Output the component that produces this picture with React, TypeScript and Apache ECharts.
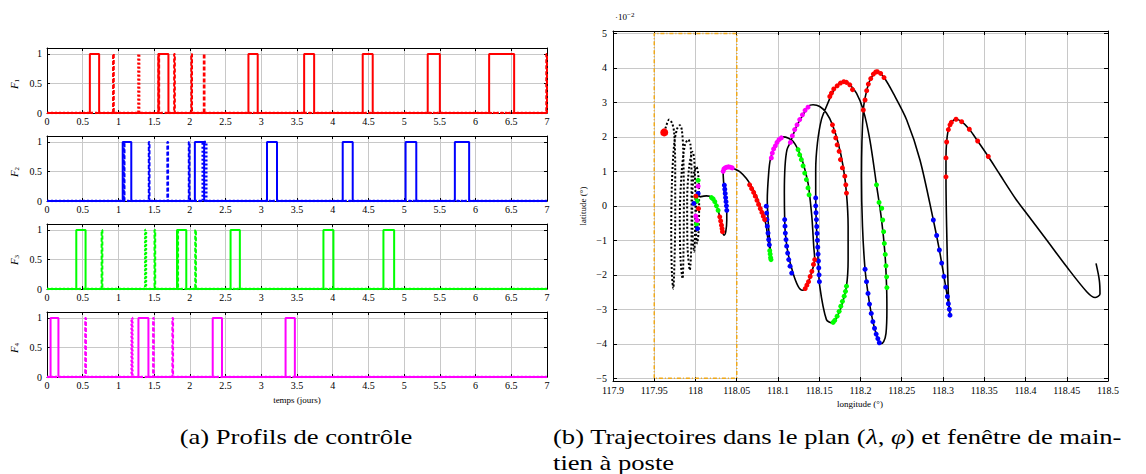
import React, { useEffect, useRef } from "react";
import * as echarts from "echarts";

// ---------- Data: control profiles (pulse start/end times, days) ----------
const T_MAX = 7;
const TIME_TICKS_INTERVAL = 0.5;
const F1_SOLID = [[0.6, 0.73], [1.56, 1.7], [2.82, 2.95], [3.6, 3.74], [4.42, 4.56], [5.33, 5.5], [6.19, 6.54]];
const F1_DASHED = [[0.925, 0.935], [1.56, 1.57], [1.78, 1.79], [2.02, 2.03], [2.195, 2.205], [6.99, 7.0]];
const F1_DOTTED = [[1.28, 1.29]];
const F2_SOLID = [[1.06, 1.18], [2.07, 2.2], [3.08, 3.22], [4.14, 4.28], [5.02, 5.17], [5.71, 5.91]];
const F2_DASHED = [[1.075, 1.085], [1.425, 1.435], [1.685, 1.695], [1.985, 1.995]];
const F2_DOTTED = [[2.18, 2.23]];
const F3_SOLID = [[0.41, 0.54], [1.82, 1.95], [2.57, 2.7], [3.87, 4.01], [4.71, 4.86]];
const F3_DASHED = [[0.765, 0.775], [1.505, 1.515], [1.825, 1.835], [2.075, 2.085]];
const F3_DOTTED = [[1.375, 1.385]];
const F4_SOLID = [[0.05, 0.16], [1.28, 1.42], [2.32, 2.45], [3.34, 3.47]];
const F4_DASHED = [[0.535, 0.545], [1.485, 1.495], [1.755, 1.765]];
const F4_DOTTED = [[1.185, 1.195]];

const PANEL_NAMES = ["1", "2", "3", "4"];
const PANEL_COLORS = ["#ff0000", "#0000ff", "#00ff00", "#ff00ff"];
const PANELS = [
  [F1_SOLID, F1_DASHED, F1_DOTTED],
  [F2_SOLID, F2_DASHED, F2_DOTTED],
  [F3_SOLID, F3_DASHED, F3_DOTTED],
  [F4_SOLID, F4_DASHED, F4_DOTTED],
];

// ---------- Data: trajectories (longitude °, latitude ×1e-2 °) ----------
const LON_MIN = 117.9;
const LON_MAX = 118.5;
const LON_STEP = 0.05;
const LAT_MIN = -5.08;
const LAT_MAX = 5.07;
const BOX_LON = [117.95, 118.05];
const BOX_LAT = [-5, 5];

const DOTTED_PATH = [
  [117.9621, 2.13], [117.9641, 2.29], [117.9681, 2.5], [117.9718, 2.39], [117.9742, 2.1], [117.9754, 1.13],
  [117.9754, -0.32], [117.9746, -1.57], [117.973, -2.4], [117.9714, -1.96], [117.9706, -0.8], [117.9714, 0.65],
  [117.9742, 1.81], [117.9778, 2.24], [117.981, 2.34], [117.9835, 2.19], [117.9851, 1.61], [117.9859, 0.16],
  [117.9855, -1.29], [117.9843, -2.11], [117.9819, -1.57], [117.981, -0.32], [117.9831, 0.94], [117.9871, 1.76],
  [117.9911, 1.92], [117.994, 1.76], [117.9952, 0.65], [117.9952, -0.8], [117.9931, -1.86], [117.9903, -1.19],
  [117.9899, 0.16], [117.9923, 1.13], [117.9964, 1.57], [117.9984, 1.37], [118.0, 0.16], [117.9992, -1.0],
  [117.9984, -1.33], [117.9964, -0.8], [117.996, 0.16], [117.998, 0.94], [118.0012, 1.13], [118.0036, 0.84],
  [118.0044, -0.03], [118.0036, -0.8], [118.002, -1.09], [118.0004, -0.61], [118.0012, 0.16], [118.0032, 0.31],
];

const SOLID_PATH = [
  [118.0052, 0.26], [118.0133, 0.29], [118.0173, 0.28], [118.0194, 0.24], [118.0234, 0.12], [118.0274, -0.13],
  [118.0294, -0.32], [118.0315, -0.56], [118.0327, -0.75], [118.0347, -0.85], [118.0367, -0.75], [118.0379, -0.42],
  [118.0379, -0.13], [118.0355, 0.26], [118.0343, 0.6], [118.0335, 0.99], [118.0355, 1.1], [118.0407, 1.13],
  [118.0464, 1.08], [118.0536, 0.99], [118.0617, 0.79], [118.0677, 0.57], [118.0737, 0.28], [118.0798, -0.11],
  [118.0838, -0.4], [118.0858, -0.59], [118.0879, -0.98], [118.0899, -1.22], [118.0919, -1.56], [118.0905, -1.2],
  [118.0885, -0.6], [118.087, 0.18], [118.0887, 0.95], [118.0907, 1.34], [118.096, 1.72], [118.102, 1.94],
  [118.1061, 2.0], [118.1121, 1.97], [118.1182, 1.87], [118.1243, 1.63], [118.1304, 1.24], [118.1364, 0.66],
  [118.1385, 0.28], [118.1413, -0.4], [118.1433, -1.17], [118.1445, -1.56], [118.1405, -1.95], [118.1364, -2.24],
  [118.1324, -2.41], [118.1296, -2.45], [118.1243, -2.33], [118.1182, -1.95], [118.1121, -1.37], [118.1089, -0.79],
  [118.1081, -0.4], [118.1077, 0.37], [118.1085, 1.14], [118.1109, 1.63], [118.115, 1.84], [118.1223, 2.3],
  [118.1304, 2.64], [118.1364, 2.88], [118.1425, 2.93], [118.1506, 2.88], [118.1587, 2.69], [118.166, 2.35],
  [118.1729, 1.82], [118.179, 1.14], [118.183, 0.37], [118.185, -0.59], [118.185, -1.56], [118.183, -2.33],
  [118.1769, -2.91], [118.1709, -3.25], [118.166, -3.4], [118.1587, -3.3], [118.1506, -2.33], [118.1486, -1.56],
  [118.1466, -0.59], [118.1457, 0.23], [118.1457, 1.05], [118.1478, 1.82], [118.1526, 2.5], [118.1587, 2.88],
  [118.1648, 3.22], [118.1709, 3.46], [118.179, 3.61], [118.187, 3.51], [118.1951, 3.27], [118.2032, 2.79],
  [118.2113, 1.92], [118.2194, 0.61], [118.2255, -0.4], [118.2296, -1.37], [118.2316, -2.33], [118.232, -3.02],
  [118.2309, -3.7], [118.2281, -3.94], [118.2245, -4.0], [118.221, -3.85], [118.217, -3.55], [118.213, -3.12],
  [118.2091, -2.54], [118.2055, -1.84], [118.2024, -0.59], [118.2012, 0.86], [118.2034, 2.78], [118.2075, 3.34],
  [118.2124, 3.69], [118.2204, 3.89], [118.2285, 3.72], [118.2398, 3.26], [118.256, 2.49], [118.2721, 1.33],
  [118.2883, -0.41], [118.2956, -1.28], [118.3012, -2.05], [118.3053, -2.63], [118.3077, -3.0], [118.3085, -3.17],
  [118.3065, -2.54], [118.3044, -0.61], [118.3036, 0.84], [118.3036, 1.39], [118.3044, 1.85], [118.3065, 2.21],
  [118.3101, 2.42], [118.3158, 2.51], [118.3226, 2.44], [118.3319, 2.22], [118.342, 1.88], [118.3549, 1.43],
  [118.3691, 0.9], [118.389, 0.17], [118.4014, -0.22], [118.4257, -0.99], [118.45, -1.77], [118.4742, -2.49],
  [118.4843, -2.66], [118.4903, -2.56], [118.4895, -2.16], [118.4855, -1.67],
];

const START_POINT = [[117.9621, 2.13]];

const RED_DOTS = [
  [118.0294, -0.32], [118.0305, -0.44], [118.0315, -0.56], [118.0322, -0.66], [118.0327, -0.75],
  [118.0656, 0.61], [118.068, 0.5], [118.0705, 0.39], [118.0725, 0.28], [118.0745, 0.16], [118.0765, 0.04],
  [118.0785, -0.08], [118.0805, -0.19], [118.0822, -0.3], [118.0838, -0.4],
  [118.1445, -1.56], [118.143, -1.7], [118.141, -1.9], [118.139, -2.05], [118.137, -2.2], [118.135, -2.3], [118.133, -2.4],
  [118.166, 2.35], [118.1676, 2.16], [118.17, 1.97], [118.1717, 1.77], [118.1741, 1.58], [118.1757, 1.34],
  [118.1781, 1.1], [118.181, 0.86], [118.1822, 0.61], [118.183, 0.37],
  [118.1628, 3.17], [118.1648, 3.27], [118.1676, 3.39], [118.1717, 3.48], [118.1757, 3.56], [118.1798, 3.6],
  [118.183, 3.58], [118.187, 3.51], [118.1903, 3.37],
  [118.2034, 2.78], [118.2055, 3.07], [118.2075, 3.34], [118.2095, 3.53], [118.2124, 3.69], [118.2156, 3.82],
  [118.2185, 3.88], [118.2204, 3.89], [118.2244, 3.84], [118.2285, 3.72],
  [118.3036, 0.84], [118.3036, 1.39], [118.3044, 1.85], [118.3065, 2.21], [118.3085, 2.35], [118.3101, 2.42],
  [118.3158, 2.51], [118.3226, 2.44], [118.3319, 2.22], [118.342, 1.88], [118.3549, 1.43],
  [118.0004, 0.28], [118.0036, -0.08],
];

const BLUE_DOTS = [
  [118.0379, -0.13], [118.0375, 0.0], [118.037, 0.12], [118.0365, 0.24], [118.036, 0.36], [118.0355, 0.48], [118.035, 0.6],
  [118.0858, -0.01], [118.0862, -0.21], [118.0866, -0.4], [118.087, -0.59], [118.0879, -0.79], [118.0887, -0.98], [118.0895, -1.13],
  [118.1081, -0.4], [118.1085, -0.59], [118.1089, -0.79], [118.1097, -0.98], [118.1105, -1.17], [118.1117, -1.37],
  [118.113, -1.56], [118.1146, -1.75], [118.1166, -1.95],
  [118.1457, 0.23], [118.1457, 0.0], [118.1461, -0.2], [118.1466, -0.4], [118.147, -0.6], [118.1474, -0.8],
  [118.1478, -1.0], [118.1482, -1.2], [118.1486, -1.4], [118.149, -1.6], [118.1494, -1.8], [118.1498, -2.0], [118.1502, -2.2],
  [118.2055, -1.84], [118.2073, -2.2], [118.2091, -2.54], [118.2109, -2.85], [118.213, -3.12], [118.215, -3.36],
  [118.217, -3.55], [118.219, -3.72], [118.221, -3.85], [118.2228, -3.97],
  [118.2883, -0.41], [118.2923, -0.86], [118.2956, -1.28], [118.2984, -1.66], [118.3012, -2.05], [118.3033, -2.36],
  [118.3053, -2.63], [118.3065, -2.84], [118.3077, -3.0], [118.3085, -3.17],
  [118.0032, 0.36], [117.998, 0.07], [118.0024, -0.66],
];

const GREEN_DOTS = [
  [118.0194, 0.24], [118.0214, 0.2], [118.0234, 0.12], [118.0254, 0.0], [118.0274, -0.13],
  [118.09, -1.3], [118.0905, -1.4], [118.091, -1.5], [118.0915, -1.56],
  [118.1243, 1.63], [118.1263, 1.48], [118.1283, 1.34], [118.1304, 1.16], [118.1324, 0.95], [118.1344, 0.76],
  [118.1364, 0.52], [118.1377, 0.32],
  [118.183, -2.33], [118.1818, -2.48], [118.1802, -2.62], [118.1781, -2.77], [118.1761, -2.91], [118.1741, -3.06],
  [118.1717, -3.2], [118.1688, -3.32], [118.1668, -3.38],
  [118.2194, 0.61], [118.2225, 0.1], [118.2257, -0.07], [118.2269, -0.41], [118.228, -0.75], [118.2289, -1.09],
  [118.23, -1.41], [118.2309, -1.74], [118.2317, -2.06], [118.232, -2.37],
  [118.0032, 0.74], [118.0004, 0.26], [118.002, 0.14], [118.0012, -0.53],
];

const MAGENTA_DOTS = [
  [118.0335, 1.0], [118.0345, 1.07], [118.036, 1.1], [118.038, 1.12], [118.04, 1.13], [118.042, 1.12], [118.0445, 1.1],
  [118.0919, 1.39], [118.0931, 1.53], [118.0947, 1.65], [118.0968, 1.74], [118.0988, 1.84], [118.1012, 1.92], [118.104, 1.97],
  [118.115, 1.84], [118.1174, 2.03], [118.1202, 2.21], [118.1231, 2.35], [118.1263, 2.5], [118.1296, 2.64],
  [118.1328, 2.77], [118.1364, 2.86],
  [118.0032, 0.57], [118.0004, -0.3], [118.002, -0.42],
];

// ---------- helpers ----------
function pulseLine(pulses: number[][]) {
  const pts: number[][] = [[0, 0]];
  for (const [s, e] of pulses) {
    pts.push([s, 0], [s, 1], [e, 1], [e, 0]);
  }
  pts.push([T_MAX, 0]);
  return pts;
}

const FONT = "Liberation Serif";
const GRID_COLOR = "#c8c8c8";

export default function App() {
  const ref = useRef<HTMLDivElement>(null);

  useEffect(() => {
    document.body.style.margin = "0";
    if (!ref.current) return;
    const chart = echarts.init(ref.current, undefined, { renderer: "svg" });

    const PANEL_TOPS = [48, 136, 224, 312];
    const grids: any[] = PANEL_TOPS.map((top) => ({ left: 47, top, width: 500, height: 65, show: false }));
    grids.push({ left: 613, top: 31, width: 495, height: 350, show: false });

    const xAxes: any[] = [];
    const yAxes: any[] = [];
    const series: any[] = [];

    const tickStyle = { inside: true, length: 3, lineStyle: { color: "#000", width: 1 } };
    const lineBlack = { show: true, onZero: false, lineStyle: { color: "#000", width: 1 } };

    PANELS.forEach((panel, i) => {
      xAxes.push({
        gridIndex: i, type: "value", min: 0, max: T_MAX, interval: TIME_TICKS_INTERVAL,
        axisLine: lineBlack, axisTick: tickStyle,
        axisLabel: { fontFamily: FONT, fontSize: 10, color: "#000", margin: 3 },
        splitLine: { show: true, lineStyle: { color: GRID_COLOR, width: 1 } },
      });
      xAxes.push({
        gridIndex: i, type: "value", position: "top", min: 0, max: T_MAX, interval: TIME_TICKS_INTERVAL,
        axisLine: lineBlack, axisTick: tickStyle, axisLabel: { show: false }, splitLine: { show: false },
      });
      yAxes.push({
        gridIndex: i, type: "value", min: 0, max: 1.1, interval: 0.5,
        axisLine: lineBlack, axisTick: tickStyle,
        axisLabel: {
          fontFamily: FONT, fontSize: 10, color: "#000", margin: 5,
          formatter: (v: number) => (Math.abs(v * 2 - Math.round(v * 2)) < 1e-6 ? String(v) : ""),
        },
        splitLine: { show: true, lineStyle: { color: GRID_COLOR, width: 1 } },
      });
      yAxes.push({
        gridIndex: i, type: "value", position: "right", min: 0, max: 1.1, interval: 0.5,
        axisLine: lineBlack, axisTick: tickStyle, axisLabel: { show: false }, splitLine: { show: false },
      });
      const color = PANEL_COLORS[i];
      const [solid, dashed, dotted] = panel;
      series.push({
        type: "line", xAxisIndex: 2 * i, yAxisIndex: 2 * i, data: pulseLine(dotted), showSymbol: false,
        lineStyle: { color, width: 2.5, type: [2, 2] }, z: 3,
      });
      series.push({
        type: "line", xAxisIndex: 2 * i, yAxisIndex: 2 * i, data: pulseLine(dashed), showSymbol: false,
        lineStyle: { color, width: 2, type: [4, 2] }, z: 4,
      });
      series.push({
        type: "line", xAxisIndex: 2 * i, yAxisIndex: 2 * i, data: pulseLine(solid), showSymbol: false,
        lineStyle: { color, width: 2 }, z: 5,
      });
    });

    // right plot axes
    xAxes.push({
      gridIndex: 4, type: "value", min: LON_MIN, max: LON_MAX, interval: LON_STEP,
      axisLine: lineBlack, axisTick: { ...tickStyle, length: 4 },
      axisLabel: { fontFamily: FONT, fontSize: 10, color: "#000", margin: 4 },
      splitLine: { show: true, lineStyle: { color: GRID_COLOR, width: 1 } },
    });
    xAxes.push({
      gridIndex: 4, type: "value", position: "top", min: LON_MIN, max: LON_MAX, interval: LON_STEP,
      axisLine: lineBlack, axisTick: { ...tickStyle, length: 4 }, axisLabel: { show: false }, splitLine: { show: false },
    });
    const latFmt = (v: number) => {
      if (Math.abs(v - Math.round(v)) > 1e-6) return "";
      const r = Math.round(v);
      return r < 0 ? "\u2212" + Math.abs(r) : String(r);
    };
    yAxes.push({
      gridIndex: 4, type: "value", min: LAT_MIN, max: LAT_MAX, splitNumber: 10,
      axisLine: lineBlack, axisTick: { ...tickStyle, length: 4 },
      axisLabel: { fontFamily: FONT, fontSize: 10, color: "#000", margin: 6, formatter: latFmt, showMinLabel: true, showMaxLabel: true },
      splitLine: { show: true, lineStyle: { color: GRID_COLOR, width: 1 } },
    });
    yAxes.push({
      gridIndex: 4, type: "value", position: "right", min: LAT_MIN, max: LAT_MAX, splitNumber: 10,
      axisLine: lineBlack, axisTick: { ...tickStyle, length: 4 }, axisLabel: { show: false }, splitLine: { show: false },
    });

    const boxData = [
      [BOX_LON[0], BOX_LAT[0]], [BOX_LON[0], BOX_LAT[1]], [BOX_LON[1], BOX_LAT[1]],
      [BOX_LON[1], BOX_LAT[0]], [BOX_LON[0], BOX_LAT[0]],
    ];
    series.push({
      type: "line", xAxisIndex: 8, yAxisIndex: 8, data: boxData, showSymbol: false,
      lineStyle: { color: "#f0a818", width: 1.5, type: [4, 2, 1, 2] }, z: 2,
    });
    series.push({
      type: "line", xAxisIndex: 8, yAxisIndex: 8, data: DOTTED_PATH, showSymbol: false, smooth: 0.3,
      lineStyle: { color: "#000", width: 2, type: [2, 2] }, z: 3,
    });
    series.push({
      type: "line", xAxisIndex: 8, yAxisIndex: 8, data: SOLID_PATH, showSymbol: false, smooth: 0.3,
      lineStyle: { color: "#000", width: 1.6 }, z: 4,
    });
    const dots = (data: number[][], color: string, size: number) => ({
      type: "scatter", xAxisIndex: 8, yAxisIndex: 8, data, symbol: "circle", symbolSize: size,
      itemStyle: { color, opacity: 1 }, z: 6,
    });
    series.push(dots(GREEN_DOTS, "#00ff00", 5));
    series.push(dots(BLUE_DOTS, "#0000ff", 5));
    series.push(dots(RED_DOTS, "#ff0000", 5));
    series.push(dots(MAGENTA_DOTS, "#ff00ff", 5));
    series.push(dots(START_POINT, "#ff0000", 8));

    const small = { fontFamily: FONT, fontSize: 10, fill: "#000" };
    const graphic: any[] = [];
    PANEL_NAMES.forEach((n, i) => {
      graphic.push({
        type: "text", x: 14, y: PANEL_TOPS[i] + 36, rotation: Math.PI / 2,
        style: {
          text: "{i|F}{s|" + n + "}", align: "center", verticalAlign: "middle",
          rich: {
            i: { fontFamily: FONT, fontSize: 11, fontStyle: "italic", fill: "#000" },
            s: { fontFamily: FONT, fontSize: 7, fill: "#000", padding: [5, 0, 0, 0] },
          },
        },
      });
    });
    graphic.push({ type: "text", x: 297, y: 400, style: { ...small, fontSize: 9, text: "temps (jours)", align: "center", verticalAlign: "middle" } });
    graphic.push({ type: "text", x: 860, y: 404, style: { ...small, fontSize: 9, text: "longitude (°)", align: "center", verticalAlign: "middle" } });
    graphic.push({
      type: "text", x: 583, y: 206, rotation: Math.PI / 2,
      style: { ...small, fontSize: 9, text: "latitude (°)", align: "center", verticalAlign: "middle" },
    });
    graphic.push({
      type: "text", x: 615, y: 17,
      style: {
        text: "{a|·10}{b|\u22122}", align: "left", verticalAlign: "middle",
        rich: {
          a: { fontFamily: FONT, fontSize: 9, fill: "#000" },
          b: { fontFamily: FONT, fontSize: 7, fill: "#000", padding: [0, 0, 5, 0] },
        },
      },
    });
    const CAP = 22;
    const CAP_SX = 1.21;
    graphic.push({
      type: "text", x: 296, y: 436, scaleX: CAP_SX,
      style: { fontFamily: FONT, fontSize: CAP, fill: "#000", text: "(a) Profils de contrôle", align: "center", verticalAlign: "middle" },
    });
    graphic.push({
      type: "text", x: 553, y: 436, scaleX: CAP_SX,
      style: {
        text: "{r|(b) Trajectoires dans le plan (}{i|λ}{r|, }{i|φ}{r|) et fenêtre de main-}",
        align: "left", verticalAlign: "middle",
        rich: {
          r: { fontFamily: FONT, fontSize: CAP, fill: "#000" },
          i: { fontFamily: FONT, fontSize: CAP, fontStyle: "italic", fill: "#000" },
        },
      },
    });
    graphic.push({
      type: "text", x: 553, y: 462, scaleX: CAP_SX,
      style: { fontFamily: FONT, fontSize: CAP, fill: "#000", text: "tien à poste", align: "left", verticalAlign: "middle" },
    });

    chart.setOption({
      animation: false,
      backgroundColor: "#ffffff",
      grid: grids,
      xAxis: xAxes,
      yAxis: yAxes,
      series,
      graphic,
    });

    return () => chart.dispose();
  }, []);

  return <div ref={ref} style={{ width: 1146, height: 474 }} />;
}
